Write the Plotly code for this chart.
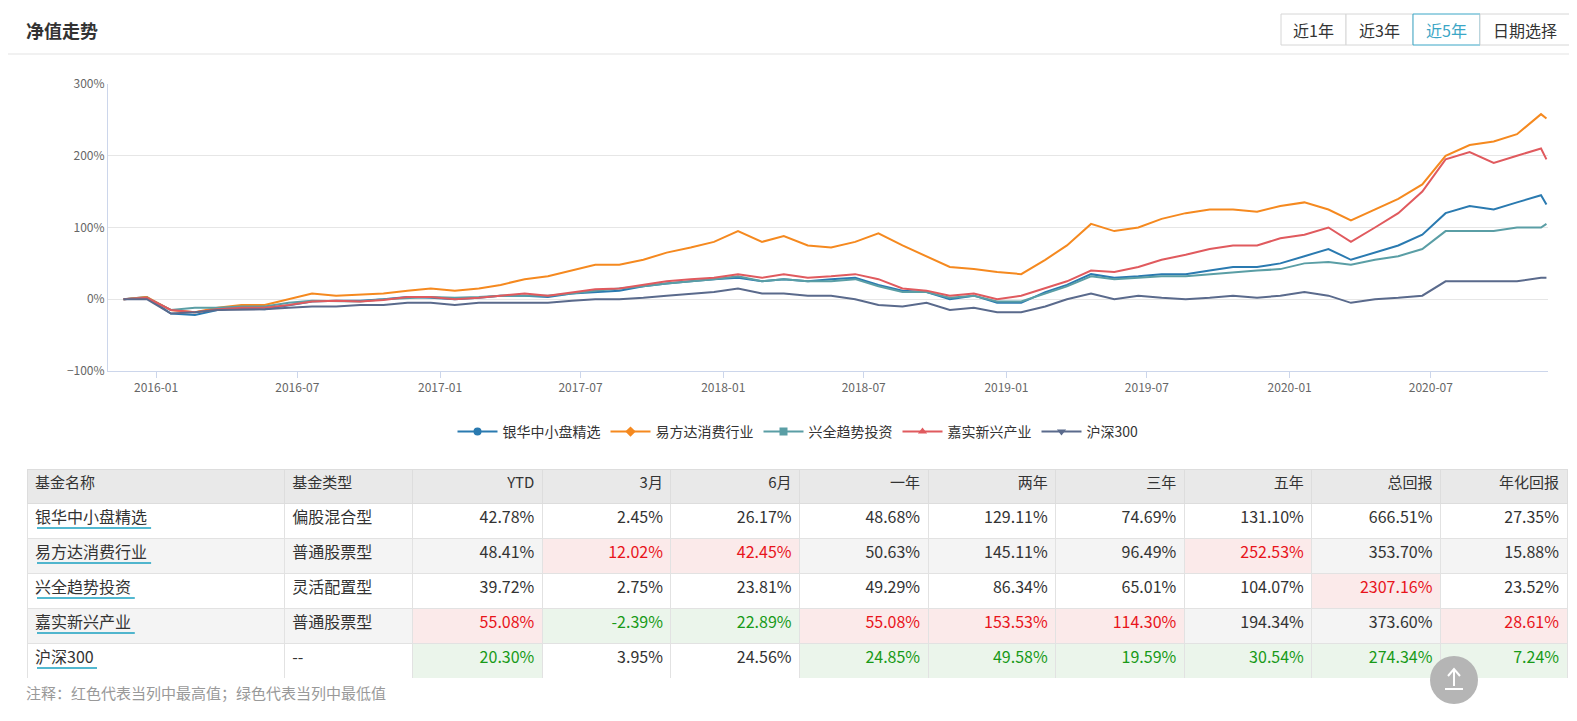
import plotly.graph_objects as go

W, H = 1577, 705
OFF_X, OFF_Y = 0, 6

dates = ["2015-11-20", "2015-12-20"] + [f"{y}-{m:02d}-20" for y in range(2016, 2020) for m in range(1, 13)] \
    + [f"2020-{m:02d}-20" for m in range(1, 12)] + ["2020-11-27"]

yinhua = [0, 3,
          -20, -22, -15, -12, -14, -8, -3, -2, -2, 0, 3, 2,
          0, 2, 5, 5, 3, 8, 10, 12, 18, 22, 25, 28,
          30, 25, 28, 25, 28, 30, 20, 12, 10, 0, 5, -5,
          -5, 10, 20, 35, 30, 32, 35, 35, 40, 45, 45, 50,
          60, 70, 55, 65, 75, 90, 120, 130, 125, 135, 145, 132]
efund = [0, 3,
         -15, -18, -12, -8, -8, 0, 8, 5, 6, 8, 12, 15,
         12, 15, 20, 28, 32, 40, 48, 48, 55, 65, 72, 80,
         95, 80, 88, 75, 72, 80, 92, 75, 60, 45, 42, 38,
         35, 55, 75, 105, 95, 100, 112, 120, 125, 125, 122, 130,
         135, 125, 110, 125, 140, 160, 200, 215, 220, 230, 258, 252]
xingquan = [0, 2,
            -15, -12, -12, -10, -10, -5, -2, -3, -3, 0, 2, 3,
            2, 3, 5, 5, 5, 8, 12, 15, 18, 22, 25, 28,
            32, 25, 28, 25, 25, 28, 18, 10, 10, 2, 5, -3,
            -3, 8, 18, 32, 28, 30, 32, 32, 35, 38, 40, 42,
            50, 52, 48, 55, 60, 70, 95, 95, 95, 100, 100, 105]
jiashi = [0, 2,
          -15, -18, -14, -12, -12, -8, -3, -2, -3, -1, 3, 3,
          0, 2, 5, 8, 5, 10, 14, 15, 20, 25, 28, 30,
          35, 30, 35, 30, 32, 35, 28, 15, 12, 5, 8, 0,
          5, 15, 25, 40, 38, 45, 55, 62, 70, 75, 75, 85,
          90, 100, 80, 100, 120, 150, 195, 205, 190, 200, 210, 195]
hs300 = [0, 0,
         -20, -18, -15, -15, -14, -12, -10, -10, -8, -8, -5, -5,
         -8, -5, -5, -5, -5, -2, 0, 0, 2, 5, 8, 10,
         15, 8, 8, 5, 5, 0, -8, -10, -5, -15, -12, -18,
         -18, -10, 0, 8, 0, 5, 2, 0, 2, 5, 2, 5,
         10, 5, -5, 0, 2, 5, 25, 25, 25, 25, 30, 30]

names = ["银华中小盘精选", "易方达消费行业", "兴全趋势投资", "嘉实新兴产业", "沪深300"]
series = [yinhua, efund, xingquan, jiashi, hs300]
colors = ["#2a7ab0", "#f5891f", "#5a9ea5", "#e05a5e", "#5a6a8c"]
symbols = ["circle", "diamond", "square", "triangle-up", "triangle-down"]

fund_types = ["偏股混合型", "普通股票型", "灵活配置型", "普通股票型", "--"]
columns = ["基金名称", "基金类型", "YTD", "3月", "6月", "一年", "两年", "三年", "五年", "总回报", "年化回报"]
returns = [
    [42.78, 2.45, 26.17, 48.68, 129.11, 74.69, 131.10, 666.51, 27.35],
    [48.41, 12.02, 42.45, 50.63, 145.11, 96.49, 252.53, 353.70, 15.88],
    [39.72, 2.75, 23.81, 49.29, 86.34, 65.01, 104.07, 2307.16, 23.52],
    [55.08, -2.39, 22.89, 55.08, 153.53, 114.30, 194.34, 373.60, 28.61],
    [20.30, 3.95, 24.56, 24.85, 49.58, 19.59, 30.54, 274.34, 7.24],
]


def px(p):
    return (p - OFF_X) / W


def py(p):
    return 1 - (p - OFF_Y) / H


fig = go.Figure()
for n, s, c, sym in zip(names, series, colors, symbols):
    fig.add_trace(go.Scatter(x=dates, y=s, mode="lines", line=dict(color=c, width=2),
                             name=n, showlegend=False))
    fig.add_trace(go.Scatter(x=[None], y=[None], mode="lines+markers", name=n,
                             line=dict(color=c, width=2), marker=dict(symbol=sym, size=8, color=c)))

# table
row_bg = ["#ffffff", "#f4f4f4", "#ffffff", "#f4f4f4", "#ffffff"]
cols_vals, cols_fill, cols_font = [], [], []
cols_vals.append(names); cols_fill.append(row_bg); cols_font.append(["#333"] * 5)
cols_vals.append(fund_types); cols_fill.append(row_bg); cols_font.append(["#333"] * 5)
for j in range(9):
    col = [r[j] for r in returns]
    hi, lo = max(col), min(col)
    cols_vals.append([f"{v:.2f}%" for v in col])
    cols_fill.append(["#fbeaea" if v == hi else "#ebf5eb" if v == lo else row_bg[i] for i, v in enumerate(col)])
    cols_font.append(["#e8141b" if v == hi else "#189a18" if v == lo else "#333" for v in col])

fig.add_trace(go.Table(
    domain=dict(x=[px(19), px(1560)], y=[max(py(676), 0), py(467)]),
    columnwidth=[256, 128, 129, 128, 128, 128, 127, 128, 127, 128, 126],
    header=dict(values=columns, fill_color="#e9e9e9", line_color="#dddddd", height=34,
                align=["left", "left"] + ["right"] * 9,
                font=dict(size=15, color="#333", family="Noto Sans CJK SC")),
    cells=dict(values=cols_vals, fill_color=cols_fill, line_color="#e2e2e2", height=35,
               align=["left", "left"] + ["right"] * 9,
               font=dict(size=16, color=cols_font, family="Noto Sans CJK SC")),
))

shapes = [dict(type="line", xref="paper", yref="paper", x0=0, x1=1, y0=py(52), y1=py(52),
               line=dict(color="#e3e3e3", width=1))]
annotations = [dict(text="<b>净值走势</b>", x=px(16), y=py(28), xref="paper", yref="paper",
                    xanchor="left", yanchor="middle", showarrow=False,
                    font=dict(size=18, color="#333")),
               dict(text="注释：红色代表当列中最高值；绿色代表当列中最低值", x=px(16), y=py(690),
                    xref="paper", yref="paper", xanchor="left", yanchor="middle", showarrow=False,
                    font=dict(size=15, color="#999"))]
# buttons
btns = [("近1年", 1273, 1338), ("近3年", 1338, 1405), ("近5年", 1405, 1472), ("日期选择", 1472, 1562)]
for t, a, b in btns:
    active = t == "近5年"
    shapes.append(dict(type="rect", xref="paper", yref="paper", x0=px(a), x1=px(b),
                       y0=py(43), y1=py(12), fillcolor="#ffffff",
                       line=dict(color="#3ba6c6" if active else "#d6d6d6", width=1)))
    annotations.append(dict(text=t, x=px((a + b) / 2), y=py(28), xref="paper", yref="paper",
                            xanchor="center", yanchor="middle", showarrow=False,
                            font=dict(size=16, color="#3ba6c6" if active else "#333")))
# name underlines
for i, n in enumerate(names):
    yy = py(526 + 35 * i)
    shapes.append(dict(type="line", xref="paper", yref="paper", x0=px(29),
                       x1=px(29 + (16.3 * len(n) if i < 4 else 60)), y0=yy, y1=yy,
                       line=dict(color="#1aa0c0", width=1.5)))
# back-to-top button
shapes.append(dict(type="circle", xref="paper", yref="paper", x0=px(1422), x1=px(1470),
                   y0=py(702), y1=py(654), fillcolor="#b5b5b5", line=dict(width=0)))
shapes.append(dict(type="line", xref="paper", yref="paper", x0=px(1437), x1=px(1455),
                   y0=py(687), y1=py(687), line=dict(color="white", width=2)))
shapes.append(dict(type="line", xref="paper", yref="paper", x0=px(1446), x1=px(1446),
                   y0=py(684), y1=py(668), line=dict(color="white", width=2)))
shapes.append(dict(type="path", xref="paper", yref="paper",
                   path=f"M {px(1440)} {py(674)} L {px(1446)} {py(667)} L {px(1452)} {py(674)}",
                   line=dict(color="white", width=2)))

fig.update_layout(
    width=W, height=H, margin=dict(l=0, r=0, t=0, b=0, autoexpand=False),
    paper_bgcolor="white", plot_bgcolor="white",
    font=dict(family="Noto Sans CJK SC, sans-serif", color="#333"),
    xaxis=dict(domain=[px(100), px(1540)], range=["2015-10-31", "2020-11-29"],
               tickvals=["2016-01-01", "2016-07-01", "2017-01-01", "2017-07-01", "2018-01-01",
                         "2018-07-01", "2019-01-01", "2019-07-01", "2020-01-01", "2020-07-01"],
               tickformat="%Y-%m", showgrid=False, showline=True, linecolor="#ccd6eb",
               ticks="outside", tickcolor="#ccd6eb", ticklen=6, tickfont=dict(size=12, color="#666")),
    yaxis=dict(domain=[py(369), py(82)], range=[-100, 300], dtick=100, ticksuffix="%",
               gridcolor="#e6e6e6", zeroline=False, showline=True, linecolor="#ccd6eb",
               tickfont=dict(size=12, color="#666")),
    legend=dict(orientation="h", x=px(790), xanchor="center", y=py(430), yanchor="middle",
                font=dict(size=14, color="#333"), itemwidth=40),
    shapes=shapes, annotations=annotations,
)

fig.write_html("out.html")
